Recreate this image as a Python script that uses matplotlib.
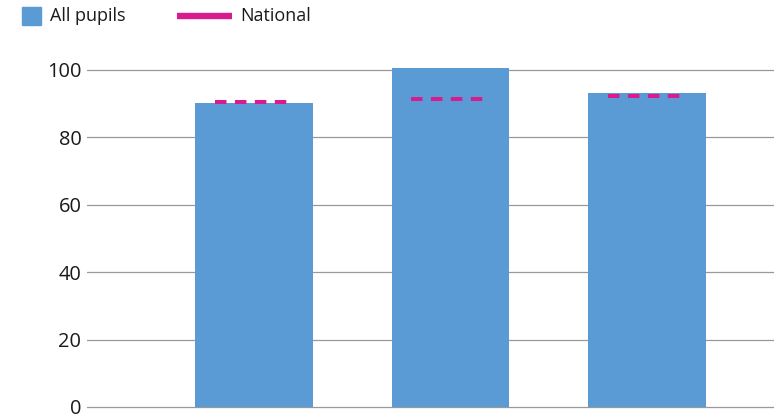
import matplotlib
matplotlib.use("Agg")
import matplotlib.pyplot as plt
from matplotlib.patches import Rectangle
from matplotlib.lines import Line2D
import numpy as np

plt.rcParams['font.family'] = ['Open Sans', 'DejaVu Sans']

categories = ["Group 1", "Group 2", "Group 3"]
all_pupils = [90.0, 100.4, 93.0]
national = [90.3, 91.3, 92.3]
y_ticks = [0, 20, 40, 60, 80, 100]

BLUE = '#5B9BD5'
MAGENTA = '#D81B8E'
GRID = '#999999'
TEXT = '#1A1A1A'

W, H = 774, 420
PX = 3.374  # pixels per data unit
y0 = 407.0  # pixel row of zero
ymin, ymax = -0.8, 110
fig = plt.figure(figsize=(W / 100, H / 100), dpi=100)
bottom_px = H - (y0 - ymin * PX)
ax = fig.add_axes([87 / W, bottom_px / H, 687 / W, (ymax - ymin) * PX / H])

x = np.arange(len(categories))
ax.bar(x, all_pupils, width=0.6, color=BLUE, zorder=2)
ax.hlines(national, x - 0.2, x + 0.2, colors=MAGENTA, linewidth=2.9,
          linestyles=[(0, (2.85, 2.1))], zorder=3)

ax.set_xlim(-0.85, 2.646)
ax.set_ylim(ymin, ymax)
ax.set_yticks(y_ticks)
ax.set_yticklabels([str(t) for t in y_ticks], fontsize=14.4, color=TEXT)
ax.set_xticks([])
ax.tick_params(axis='y', length=0, pad=4)
ax.grid(axis='y', color=GRID, linewidth=0.9, zorder=0)
ax.set_axisbelow(True)
for s in ax.spines.values():
    s.set_visible(False)

# legend
fig.add_artist(Rectangle((22 / W, 1 - 25 / H), 19 / W, 18 / H,
                         transform=fig.transFigure, color=BLUE))
fig.text(50 / W, 1 - 16 / H, "All pupils", fontsize=13, color=TEXT,
         va='center', ha='left')
fig.add_artist(Line2D([177 / W, 232 / W], [1 - 15.5 / H, 1 - 15.5 / H],
                      transform=fig.transFigure, color=MAGENTA, linewidth=4.6,
                      solid_capstyle='butt'))
fig.text(240 / W, 1 - 16 / H, "National", fontsize=13, color=TEXT,
         va='center', ha='left')

fig.savefig("out.png", dpi=100)
